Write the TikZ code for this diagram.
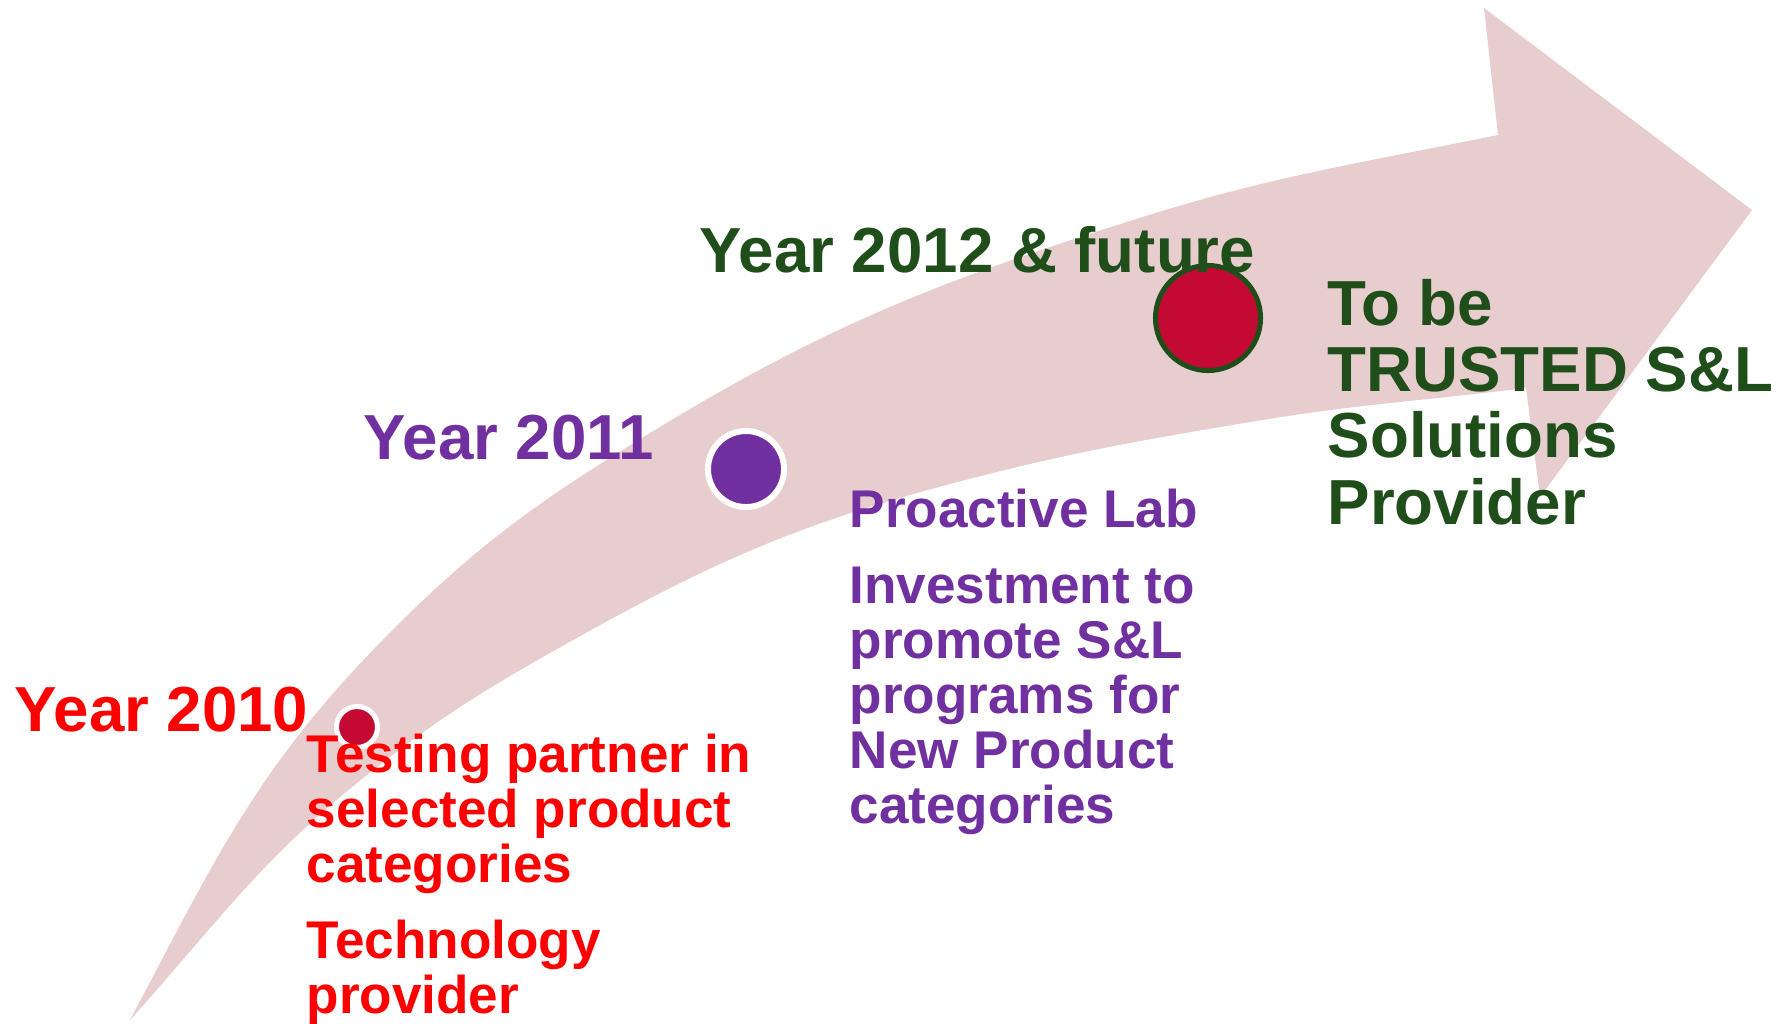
\documentclass[tikz,border=0pt]{standalone}
\usepackage{fontspec}
\setmainfont{Liberation Sans}
\definecolor{arrowpink}{HTML}{E8CDCE}
\definecolor{dotred}{HTML}{C40A32}
\definecolor{labred}{HTML}{FF0000}
\definecolor{labpurple}{HTML}{7030A0}
\definecolor{labgreen}{HTML}{1F4E1B}
\begin{document}
\begin{tikzpicture}[x=0.01cm, y=-0.01cm,
	yearlabel/.style={anchor=base west, inner sep=0pt, align=left, font=\bfseries\fontsize{18.1}{18.8}\selectfont},
	notetext/.style={anchor=base west, inner sep=0pt, align=left, font=\bfseries\fontsize{15.1}{15.6}\selectfont},
	dot/.style={circle, inner sep=0pt}]
	\useasboundingbox (0,0) rectangle (1791,1023);

	% the curved arrow
	\fill[arrowpink] (130,1020) to[out=62, in=226] (373,650) to[out=46, in=211.4] (650,433)
		to[out=31.4, in=197.6] (1133,220) to[out=17.6, in=191.5] (1498,135)
		-- (1484,8) -- (1752,210) -- (1540,497) -- (1526,388)
		to[out=187, in=9.5] (1250,422) to[out=189.5, in=14.8] (950,484)
		to[out=194.8, in=29.5] (550,653) to[out=209.5, in=39] (357,783)
		to[out=219, in=48] (130,1020) -- cycle;

	% milestones
	\node[dot, fill=dotred, draw=white, line width=0.05cm, minimum size=0.41cm] (d2010) at (357,727) {};
	\node[dot, fill=labpurple, draw=white, line width=0.06cm, minimum size=0.76cm] (d2011) at (746,469) {};
	\node[dot, fill=dotred, draw=labgreen, line width=0.05cm, minimum size=1.05cm] (d2012) at (1208,318) {};

	\node[yearlabel, labred] (y2010) at (14,731) {Year 2010};
	\node[yearlabel, labpurple] (y2011) at (363,459) {Year 2011};
	\node[yearlabel, labgreen] (y2012) at (699,272) {Year 2012 \& future};

	% multi-line texts sit on the baseline of their last line
	\node[notetext, labred] (n2010) at (306,1013) {Testing partner in\\selected product\\categories\\[6pt]Technology\\provider};
	\node[notetext, labpurple] (n2011) at (849,823) {Proactive Lab\\[6pt]Investment to\\promote S\&L\\programs for\\New Product\\categories};
	\node[yearlabel, labgreen] (goal) at (1327,524) {To be\\TRUSTED S\&L\\Solutions\\Provider};
\end{tikzpicture}
\end{document}
